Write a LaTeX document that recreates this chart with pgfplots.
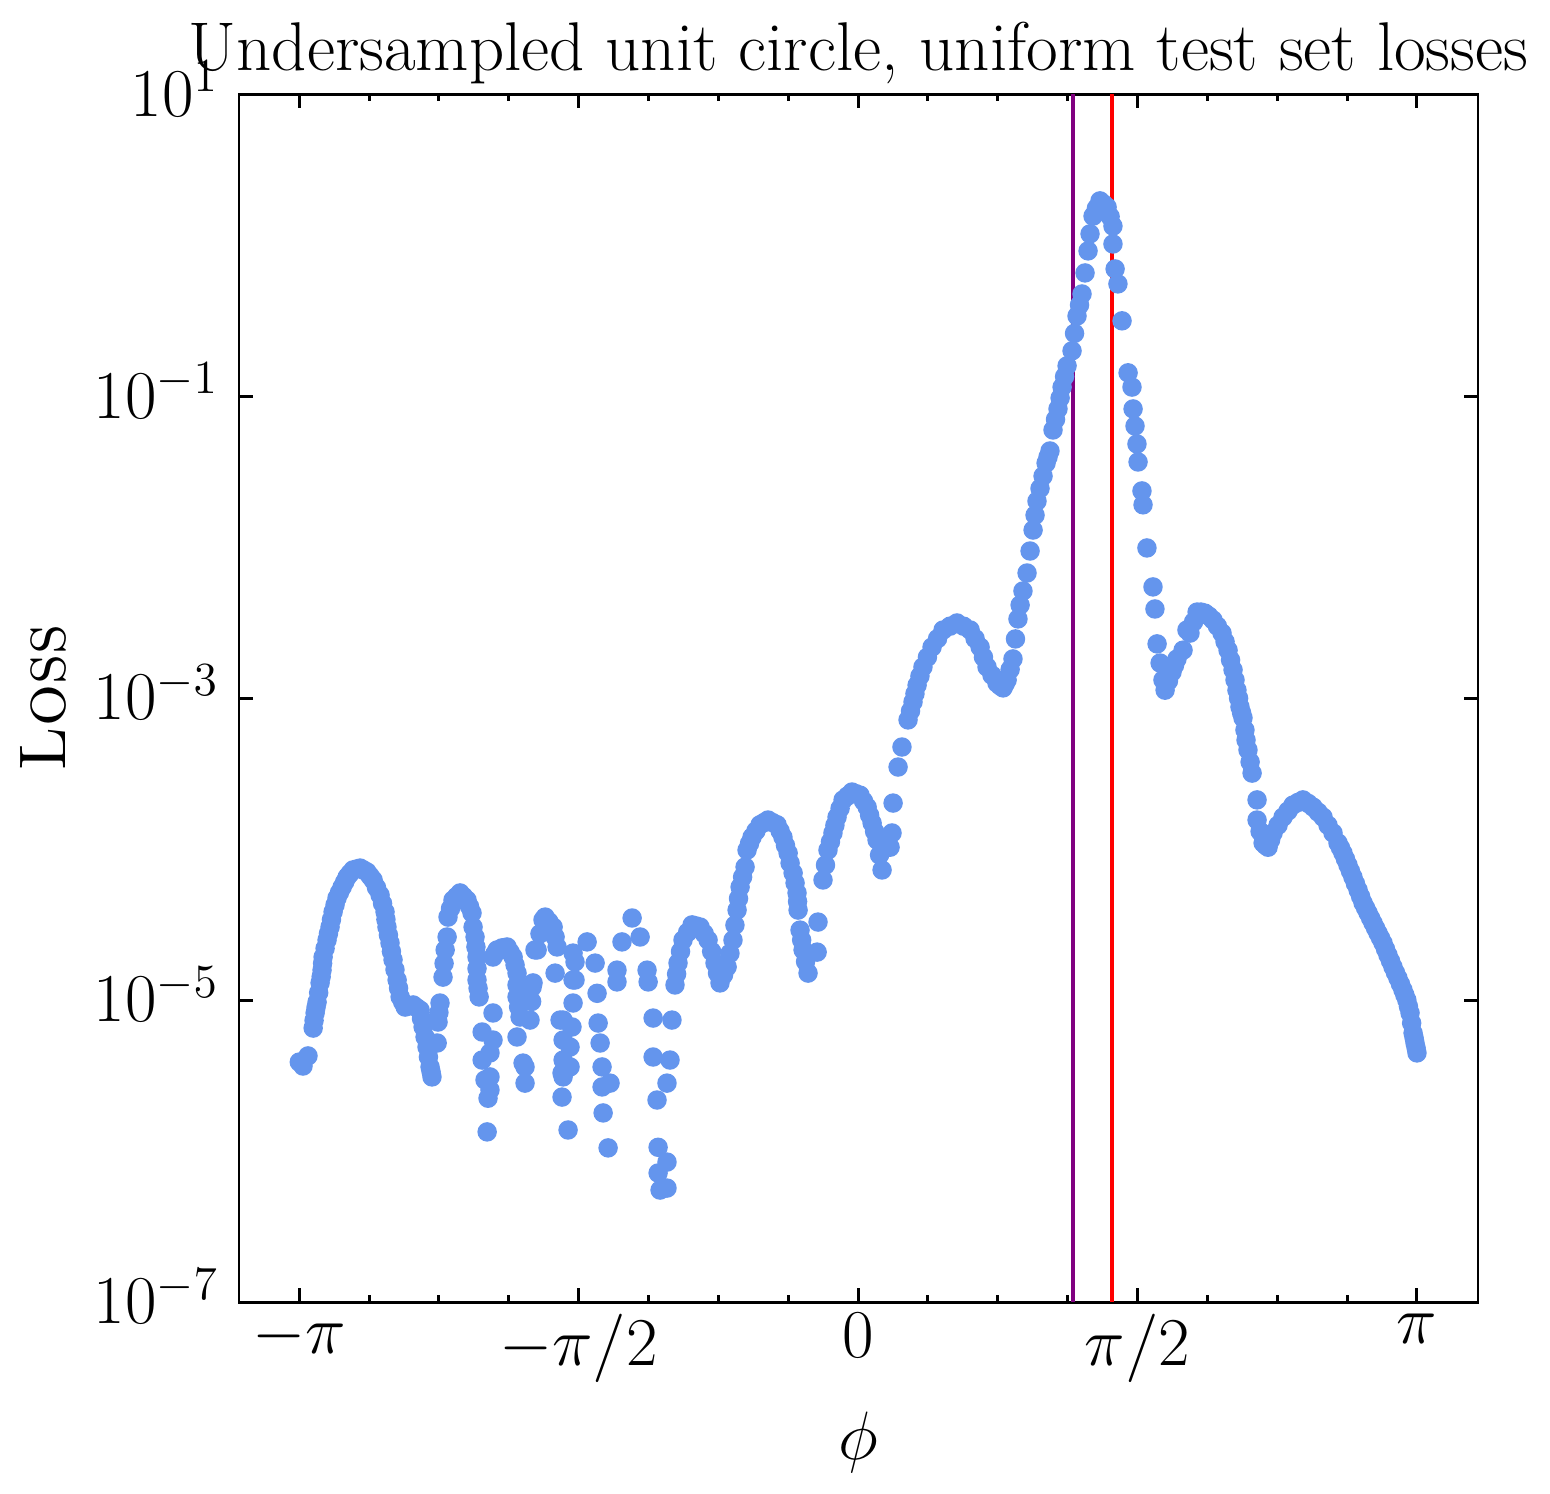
\documentclass[border=0pt]{standalone}
\usepackage{pgfplots}
\pgfplotsset{compat=1.18}
\definecolor{cfblue}{RGB}{100,149,237}
\definecolor{mplpurple}{RGB}{128,0,128}
\pgfplotstableread{
x y
-3.141 3.89e-6
-3.120 3.66e-6
-3.092 4.27e-6
-3.063 6.53e-6
-3.058 7.33e-6
-3.052 8.22e-6
-3.047 8.93e-6
-3.041 9.70e-6
-3.032 1.12e-5
-3.024 1.30e-5
-3.018 1.43e-5
-3.013 1.58e-5
-3.010 1.75e-5
-3.007 1.93e-5
-2.996 2.20e-5
-2.985 2.50e-5
-2.977 2.76e-5
-2.968 3.05e-5
-2.960 3.42e-5
-2.951 3.84e-5
-2.940 4.27e-5
-2.929 4.74e-5
-2.915 5.16e-5
-2.900 5.61e-5
-2.886 6.05e-5
-2.872 6.53e-5
-2.856 6.90e-5
-2.839 7.28e-5
-2.819 7.39e-5
-2.799 7.50e-5
-2.780 7.28e-5
-2.760 7.06e-5
-2.743 6.64e-5
-2.726 6.25e-5
-2.707 5.57e-5
-2.687 4.97e-5
-2.673 4.37e-5
-2.659 3.84e-5
-2.654 3.42e-5
-2.648 3.05e-5
-2.640 2.70e-5
-2.631 2.39e-5
-2.623 2.10e-5
-2.614 1.85e-5
-2.603 1.59e-5
-2.591 1.36e-5
-2.583 1.20e-5
-2.574 1.05e-5
-2.560 9.72e-6
-2.546 9.00e-6
-2.524 9.14e-6
-2.501 9.29e-6
-2.482 8.93e-6
-2.462 8.59e-6
-2.454 7.55e-6
-2.445 6.64e-6
-2.434 5.70e-6
-2.423 4.89e-6
-2.415 4.20e-6
-2.406 3.61e-6
-2.400 3.35e-6
-2.395 3.10e-6
-2.366 5.20e-6
-2.361 7.16e-6
-2.356 8.28e-6
-2.350 9.57e-6
-2.333 1.42e-5
-2.327 1.75e-5
-2.321 2.15e-5
-2.310 2.62e-5
-2.305 3.55e-5
-2.291 4.04e-5
-2.277 4.60e-5
-2.257 4.86e-5
-2.237 5.13e-5
-2.218 4.86e-5
-2.198 4.60e-5
-2.184 4.17e-5
-2.170 3.78e-5
-2.164 3.05e-5
-2.153 2.62e-5
-2.148 2.25e-5
-2.142 1.93e-5
-2.142 1.62e-5
-2.142 1.36e-5
-2.136 1.20e-5
-2.130 1.05e-5
-2.113 6.15e-6
-2.113 4.01e-6
-2.097 2.96e-6
-2.080 2.24e-6
-2.085 1.34e-6
-2.069 2.54e-6
-2.052 5.44e-6
-2.052 1.93e-5
-2.040 2.04e-5
-2.029 2.15e-5
-2.001 2.22e-5
-1.973 2.25e-5
-1.956 2.08e-5
-1.939 1.93e-5
-1.928 1.71e-5
-1.917 1.51e-5
-1.917 1.26e-5
-1.917 1.05e-5
-1.908 9.00e-6
-1.900 7.73e-6
-1.844 7.38e-6
-1.835 9.80e-6
-1.827 1.30e-5
-1.804 2.15e-5
-1.788 2.75e-5
-1.771 3.40e-5
-1.737 3.30e-5
-1.714 3.05e-5
-1.703 2.62e-5
-1.692 2.25e-5
-1.703 1.51e-5
-2.052 8.22e-6
-2.069 4.47e-6
-2.069 3.10e-6
-1.917 5.70e-6
-1.883 3.83e-6
-1.872 2.82e-6
-1.658 7.38e-6
-1.658 5.44e-6
-1.658 4.01e-6
-1.664 3.29e-6
-1.664 2.28e-6
-1.630 1.38e-6
-1.602 9.57e-6
-1.602 1.36e-5
-1.602 2.05e-5
-1.759 3.55e-5
-1.816 2.15e-5
-1.832 1.22e-5
-1.872 3.61e-6
-1.523 2.43e-5
-1.591 1.79e-5
-1.591 1.36e-5
-1.478 1.76e-5
-1.467 1.11e-5
-1.675 7.38e-6
-1.608 6.64e-6
-1.619 4.89e-6
-1.658 3.10e-6
-1.619 3.61e-6
-1.461 7.05e-6
-1.450 5.20e-6
-1.439 3.61e-6
-1.439 2.66e-6
-1.394 2.82e-6
-1.433 1.79e-6
-1.405 1.05e-6
-1.270 3.50e-5
-1.327 2.43e-5
-1.225 2.62e-5
-1.355 1.58e-5
-1.355 1.32e-5
-1.186 1.58e-5
-1.180 1.32e-5
-1.152 7.61e-6
-1.046 7.38e-6
-1.152 4.20e-6
-1.057 4.01e-6
-1.074 2.82e-6
-1.130 2.18e-6
-1.124 1.06e-6
-1.074 8.46e-7
-1.124 7.16e-7
-1.113 5.52e-7
-1.074 5.69e-7
-1.029 1.26e-5
-1.020 1.49e-5
-1.012 1.76e-5
-0.998 2.10e-5
-0.984 2.50e-5
-0.958 2.81e-5
-0.933 3.15e-5
-0.910 3.10e-5
-0.888 3.05e-5
-0.865 2.76e-5
-0.843 2.50e-5
-0.823 2.10e-5
-0.804 1.76e-5
-0.790 1.51e-5
-0.776 1.30e-5
-0.756 1.47e-5
-0.736 1.66e-5
-0.720 2.04e-5
-0.703 2.50e-5
-0.692 3.14e-5
-0.680 3.95e-5
-0.672 4.71e-5
-0.663 5.61e-5
-0.649 6.54e-5
-0.635 7.62e-5
-0.624 9.86e-5
-0.610 1.09e-4
-0.596 1.20e-4
-0.574 1.32e-4
-0.551 1.45e-4
-0.529 1.50e-4
-0.506 1.56e-4
-0.480 1.50e-4
-0.455 1.45e-4
-0.438 1.32e-4
-0.422 1.20e-4
-0.408 1.06e-4
-0.393 9.42e-5
-0.382 8.09e-5
-0.365 6.95e-5
-0.354 5.97e-5
-0.343 5.13e-5
-0.340 4.50e-5
-0.337 3.95e-5
-0.326 2.91e-5
-0.317 2.50e-5
-0.309 2.15e-5
-0.295 1.80e-5
-0.281 1.51e-5
-0.230 2.08e-5
-0.225 3.29e-5
-0.197 6.25e-5
-0.183 7.85e-5
-0.169 9.86e-5
-0.155 1.12e-4
-0.141 1.28e-4
-0.130 1.44e-4
-0.118 1.63e-4
-0.101 1.86e-4
-0.084 2.12e-4
-0.059 2.25e-4
-0.034 2.39e-4
-0.012 2.33e-4
0.011 2.28e-4
0.031 2.08e-4
0.051 1.90e-4
0.065 1.68e-4
0.079 1.49e-4
0.093 1.31e-4
0.107 1.15e-4
0.121 9.15e-5
0.135 7.28e-5
0.180 1.03e-4
0.191 1.28e-4
0.197 2.02e-4
0.225 3.50e-4
0.247 4.75e-4
0.281 7.18e-4
0.295 8.23e-4
0.309 9.44e-4
0.320 1.07e-3
0.332 1.22e-3
0.348 1.40e-3
0.365 1.61e-3
0.390 1.87e-3
0.416 2.18e-3
0.447 2.48e-3
0.478 2.83e-3
0.517 3.00e-3
0.556 3.15e-3
0.593 3.00e-3
0.630 2.83e-3
0.658 2.48e-3
0.686 2.18e-3
0.705 1.87e-3
0.725 1.61e-3
0.753 1.42e-3
0.781 1.26e-3
0.798 1.21e-3
0.815 1.17e-3
0.826 1.24e-3
0.838 1.32e-3
0.855 1.55e-3
0.871 1.82e-3
0.885 2.47e-3
0.899 3.35e-3
0.911 4.14e-3
0.927 5.13e-3
0.950 6.75e-3
0.967 9.44e-3
0.984 1.30e-2
0.995 1.63e-2
1.006 2.02e-2
1.023 2.45e-2
1.040 2.96e-2
1.057 3.61e-2
1.068 3.96e-2
1.079 4.34e-2
1.096 5.98e-2
1.110 7.02e-2
1.124 8.24e-2
1.136 9.74e-2
1.147 1.15e-1
1.161 1.35e-1
1.175 1.59e-1
1.203 2.00e-1
1.217 2.61e-1
1.231 3.40e-1
1.245 4.02e-1
1.259 4.76e-1
1.276 6.56e-1
1.293 9.18e-1
1.304 1.19
1.321 1.56
1.340 1.76
1.360 1.97
1.380 1.88
1.400 1.79
1.417 1.55
1.433 1.34
1.433 1.02
1.445 6.97e-1
1.461 5.55e-1
1.484 3.16e-1
1.518 1.43e-1
1.540 1.15e-1
1.546 8.24e-2
1.557 6.35e-2
1.568 4.83e-2
1.574 3.67e-2
1.596 2.36e-2
1.602 1.91e-2
1.624 9.89e-3
1.658 5.46e-3
1.669 3.90e-3
1.681 2.29e-3
1.698 1.71e-3
1.714 1.32e-3
1.726 1.13e-3
1.745 1.30e-3
1.765 1.49e-3
1.779 1.65e-3
1.793 1.82e-3
1.827 2.08e-3
1.849 2.83e-3
1.866 2.70e-3
1.886 3.20e-3
1.906 3.72e-3
1.928 3.72e-3
1.950 3.66e-3
1.972 3.50e-3
1.995 3.30e-3
2.020 3.00e-3
2.046 2.70e-3
2.063 2.37e-3
2.080 2.08e-3
2.094 1.79e-3
2.108 1.54e-3
2.119 1.32e-3
2.130 1.13e-3
2.139 1.00e-3
2.147 8.75e-4
2.156 8.00e-4
2.164 7.40e-4
2.175 6.15e-4
2.181 5.28e-4
2.192 4.54e-4
2.204 3.78e-4
2.215 3.19e-4
2.243 2.12e-4
2.243 1.56e-4
2.260 1.31e-4
2.277 1.10e-4
2.291 1.06e-4
2.305 1.03e-4
2.319 1.15e-4
2.333 1.28e-4
2.361 1.44e-4
2.389 1.63e-4
2.417 1.79e-4
2.445 1.96e-4
2.473 2.04e-4
2.501 2.12e-4
2.530 2.01e-4
2.558 1.90e-4
2.586 1.76e-4
2.614 1.63e-4
2.642 1.44e-4
2.670 1.28e-4
2.698 1.10e-4
2.712 1.02e-4
2.726 9.42e-5
2.740 8.60e-5
2.754 7.85e-5
2.768 7.16e-5
2.782 6.53e-5
2.796 5.92e-5
2.811 5.36e-5
2.825 4.86e-5
2.839 4.40e-5
2.853 4.08e-5
2.867 3.78e-5
2.881 3.50e-5
2.895 3.24e-5
2.909 3.00e-5
2.923 2.78e-5
2.937 2.58e-5
2.951 2.39e-5
2.965 2.18e-5
2.979 1.99e-5
2.993 1.82e-5
3.007 1.66e-5
3.021 1.52e-5
3.035 1.40e-5
3.049 1.28e-5
3.063 1.17e-5
3.074 1.08e-5
3.085 1.00e-5
3.094 9.07e-6
3.103 8.22e-6
3.112 7.05e-6
3.120 6.05e-6
3.126 5.61e-6
3.131 5.20e-6
3.137 4.82e-6
3.142 4.47e-6
}\losses
\begin{document}
\begin{tikzpicture}
\begin{axis}[
  name=ax,
  scale only axis,
  width=375.45pt, height=365.97pt,
  ymode=log,
  xmin=-3.48, xmax=3.485,
  ymin=1e-7, ymax=10,
  ytick={1e-7,1e-5,1e-3,1e-1,10},
  yminorticks=false,
  xtick={-3.14159265,-1.57079633,0,1.57079633,3.14159265},
  xticklabels={$-\pi$,$-\pi/2$,$0$,$\pi/2$,$\pi$},
  minor xtick={-2.7489,-2.3562,-1.9635,-1.1781,-0.7854,-0.3927,0.3927,0.7854,1.1781,1.9635,2.3562,2.7489},
  tick align=inside,
  tick pos=both,
  major tick length=4.24pt,
  minor tick length=2.12pt,
  axis line style={line width=0.9pt},
  every tick/.append style={black, line width=0.9pt},
  tick label style={font=\fontsize{20}{24}\selectfont},
  yticklabel style={anchor=base east, yshift=-6.6pt, xshift=-2.7pt},
  title={Undersampled unit circle, uniform test set losses},
  every axis title/.style={font=\fontsize{20.9}{25}\selectfont, at={(axis description cs:0.5,1)}, anchor=base, yshift=7.36pt},
  xlabel={$\phi$},
  ylabel={\textsc{Loss}},
  every axis x label/.style={font=\fontsize{20}{24}\selectfont, at={(axis description cs:0.5,-0.1159)}, anchor=center},
  every axis y label/.style={font=\fontsize{20}{24}\selectfont, at={(axis description cs:-0.1578,0.5)}, rotate=90, anchor=center},
]
\addplot[color=cfblue, only marks, mark=*, mark size=2.75pt, mark options={draw=none, fill=cfblue}] table[x=x, y=y] {\losses};
\addplot[color=mplpurple, line width=1.2pt] coordinates {(1.207,1e-7) (1.207,10)};
\addplot[color=red, line width=1.2pt] coordinates {(1.428,1e-7) (1.428,10)};
\end{axis}
\pgfresetboundingbox
\path[use as bounding box] ([xshift=-72.42pt,yshift=-57.88pt]ax.south west) rectangle ([xshift=21.82pt,yshift=28.58pt]ax.north east);
\end{tikzpicture}
\end{document}
